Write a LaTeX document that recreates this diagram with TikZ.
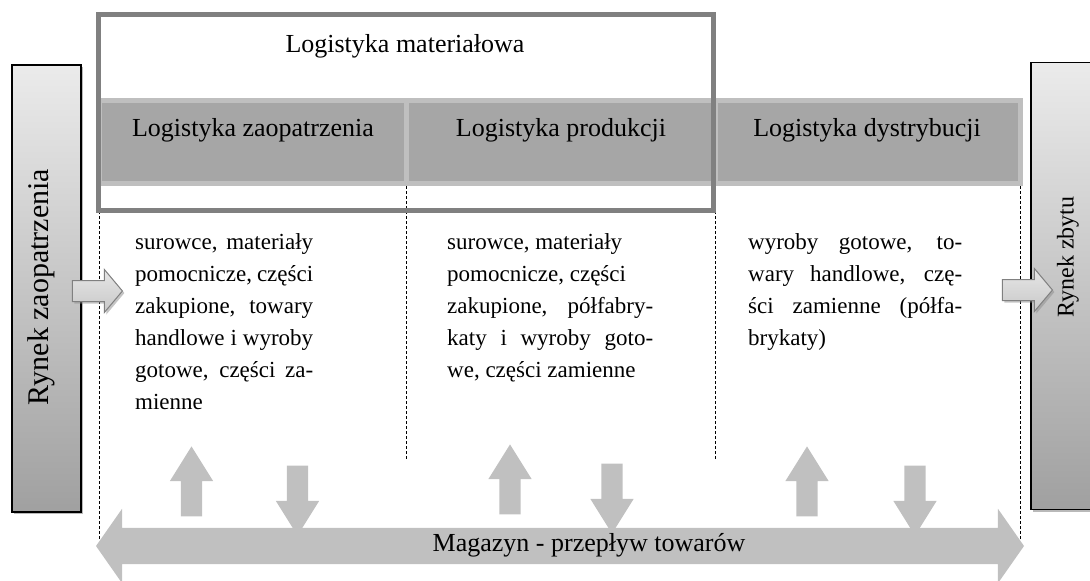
\documentclass[tikz,border=0pt]{standalone}
\usepackage{fontspec}
\setmainfont{Liberation Serif}
\usetikzlibrary{shapes.arrows,shadows,positioning}
\definecolor{BandFill}{HTML}{A6A6A6}
\definecolor{BandLine}{HTML}{BFBFBF}
\definecolor{FrameLine}{HTML}{808080}
\definecolor{FlowFill}{HTML}{C0C0C0}
\definecolor{MarketTop}{HTML}{EBEBEB}
\definecolor{MarketBottom}{HTML}{A0A0A0}
\definecolor{SideTop}{HTML}{E6E6E6}
\definecolor{SideBottom}{HTML}{C8C8C8}

\begin{document}
\begin{tikzpicture}[x=1pt, y=-1pt,
  market/.style={draw=black, line width=1.2pt, top color=MarketTop, bottom color=MarketBottom,
    drop shadow={shadow xshift=2pt, shadow yshift=-2pt, fill=black!55}, inner sep=0pt,
    minimum height=447pt},
  markettxt/.style={rotate=90, inner sep=0pt},
  cell/.style={draw=BandLine, fill=BandFill, line width=5pt, outer sep=0pt, minimum height=83pt},
  celltxt/.style={font=\fontsize{26}{30}\selectfont},
  divider/.style={line width=0.9pt, dash pattern=on 3pt off 2pt},
  coltxt/.style={anchor=north west, inner sep=0pt, align=justify, font=\fontsize{23}{32}\selectfont},
  flow/.style={single arrow, fill=FlowFill, inner sep=10.5pt, minimum height=70pt,
    single arrow head extend=11pt, single arrow tip angle=64},
  side/.style={single arrow, draw=FrameLine, line width=1pt, top color=SideTop, bottom color=SideBottom,
    drop shadow={shadow xshift=2pt, shadow yshift=-2pt, fill=black!45}, inner sep=10pt,
    minimum height=50pt, single arrow head extend=11pt, single arrow tip angle=100}
]
\useasboundingbox (0,0) rectangle (1090,581);

% rynki
\node[market, minimum width=69pt] (supply) at (46.5,288.5) {};
\node[market, minimum width=78pt] (sales) at (1070,286) {};
\node[markettxt, font=\fontsize{30}{34}\selectfont] (supplytxt) at (41,287) {Rynek zaopatrzenia};
\node[markettxt, font=\fontsize{24}{28}\selectfont] (salestxt) at (1068,257) {Rynek zbytu};

% podzialy
\draw[divider] (99.5,186) -- (99.5,540);
\draw[divider] (406.5,186) -- (406.5,460);
\draw[divider] (715.5,186) -- (715.5,460);
\draw[divider] (1020.5,186) -- (1020.5,540);

% pasek logistyki
\node[cell, minimum width=307pt] (zaop) at (253,142) {};
\node[cell, minimum width=309pt] (prod) at (561,142) {};
\node[cell, minimum width=305pt] (dystr) at (868,142) {};
\node[celltxt] (zaoptxt) at (253,130) {Logistyka zaopatrzenia};
\node[celltxt] (prodtxt) at (561,130) {Logistyka produkcji};
\node[celltxt] (dystrtxt) at (867,130) {Logistyka dystrybucji};

\node[draw=FrameLine, line width=5pt, minimum width=615pt, minimum height=195.5pt] (mat) at (406,112.25) {};
\node[celltxt] (mattxt) at (405,46) {Logistyka materiałowa};

% opisy
\node[coltxt, text width=178pt] (txtzaop) at (135,233) {surowce, materiały\linebreak pomocnicze, części\linebreak zakupione, towary\linebreak handlowe i wyroby\linebreak gotowe, części za-\linebreak mienne};
\node[coltxt, text width=206pt] (txtprod) at (447,233) {surowce, materiały\newline pomocnicze, części\newline zakupione, półfabry-\linebreak katy i wyroby goto-\linebreak we, części zamienne};
\node[coltxt, text width=214pt] (txtdystr) at (748,233) {wyroby gotowe, to-\linebreak wary handlowe, czę-\linebreak ści zamienne (półfa-\linebreak brykaty)};

% wejscie / wyjscie
\node[side] (in) at (93,291) {};
\node[side] (out) at (1023,290) {};

% magazyn
\node[flow, rotate=90] (up1) at (191.5,490) {};
\node[flow, rotate=-90] (down1) at (297.5,492) {};
\node[flow, rotate=90] (up2) at (510,488) {};
\node[flow, rotate=-90] (down2) at (612,490) {};
\node[flow, rotate=90] (up3) at (807,490) {};
\node[flow, rotate=-90] (down3) at (915,492) {};
\node[double arrow, fill=FlowFill, inner xsep=0pt, inner ysep=18pt,
  minimum height=928pt, double arrow head extend=19pt, double arrow tip angle=110] (store) at (560,546) {};
\node[font=\fontsize{26}{30}\selectfont] (storetxt) at (589,545) {Magazyn - przepływ towarów};
\end{tikzpicture}
\end{document}
